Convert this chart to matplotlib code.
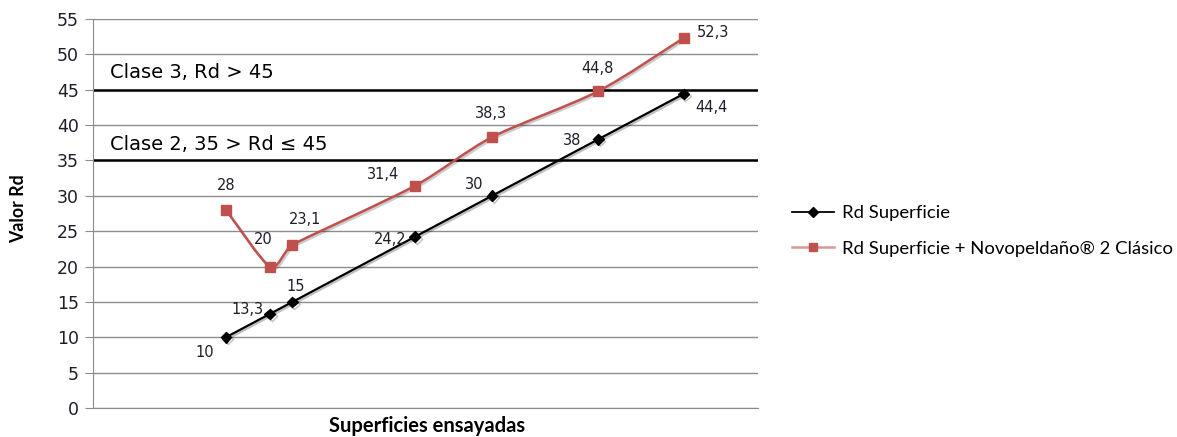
import matplotlib
matplotlib.use("Agg")
import matplotlib.pyplot as plt
import numpy as np
from matplotlib.path import Path
from matplotlib.patches import PathPatch
from matplotlib.lines import Line2D
import matplotlib.patheffects as pe

# ---- data ----
rd_superficie = [10, 13.3, 15, 24.2, 30, 38, 44.4]
rd_novopeldano = [28, 20, 23.1, 31.4, 38.3, 44.8, 52.3]
labels_black = ["10", "13,3", "15", "24,2", "30", "38", "44,4"]
labels_red = ["28", "20", "23,1", "31,4", "38,3", "44,8", "52,3"]
series_names = ["Rd Superficie", "Rd Superficie + Novopeldaño® 2 Clásico"]
clase_lines = [45, 35]
clase_texts = ["Clase 3, Rd > 45", "Clase 2, 35 > Rd \u2264 45"]
yticks = list(range(0, 60, 5))

# label offsets (pixels)
off_black = [(-21, -15), (-22, 4), (3, 15), (-25, -3), (-18, 11), (-26, -1), (28, -14)]
off_red = [(0, 24), (-7, 27), (13, 25), (-32, 11), (-1, 24), (-1, 23), (29, 6)]

BLACK = "#000000"
RED = "#C0504D"
GRID = "#8C8C8C"
TXT = "#1E1E2A"

fig = plt.figure(figsize=(11.77, 4.37), dpi=100)
ax = fig.add_axes([93 / 1177, 1 - 408 / 437, (758 - 93) / 1177, (408 - 19) / 437])

ax.set_xlim(0, 50)
ax.set_ylim(0, 55)
ax.set_yticks(yticks)
ax.set_xticks([])
ax.yaxis.grid(True, color=GRID, lw=1.0)
ax.set_axisbelow(True)
for s in ["top", "right"]:
    ax.spines[s].set_visible(False)
ax.spines["left"].set_color(GRID)
ax.spines["bottom"].set_color(GRID)
ax.tick_params(axis="y", length=6, color=GRID, labelsize=12.5, labelcolor=TXT, pad=4)
for t in ax.get_yticklabels():
    t.set_fontfamily("DejaVu Sans")

# class threshold lines
for yv in clase_lines:
    ax.axhline(yv, color="black", lw=1.8, zorder=2)
ax.text(1.3, 47.4, clase_texts[0], fontsize=14, color="black", va="center", ha="left",
        family="DejaVu Sans")
ax.text(1.3, 37.3, clase_texts[1], fontsize=14, color="black", va="center", ha="left",
        family="DejaVu Sans")

line_shadow = [pe.SimpleLineShadow(offset=(1.2, -1.2), alpha=0.25), pe.Normal()]

# black series
x = np.array(rd_superficie, dtype=float)
yb = np.array(rd_superficie, dtype=float)
ax.plot(x, yb, color=BLACK, lw=1.6, marker="D", ms=5.5, mfc=BLACK, mec=BLACK,
        zorder=4, path_effects=line_shadow)

# red series: Excel-like smoothed line (bezier through the data points)
yr = np.array(rd_novopeldano, dtype=float)
P = np.column_stack([x, yr])
sx = 665 / 50.0
sy = 389 / 55.0
Ppx = P * np.array([sx, sy])
n = len(P)
tang = []
for i in range(n):
    p0 = P[i - 1] if i > 0 else P[i]
    p2 = P[i + 1] if i < n - 1 else P[i]
    t = (p2 - p0) / 6.0
    tpx = np.hypot(t[0] * sx, t[1] * sy)
    segs = []
    if i > 0:
        segs.append(np.hypot(*(Ppx[i] - Ppx[i - 1])))
    if i < n - 1:
        segs.append(np.hypot(*(Ppx[i + 1] - Ppx[i])))
    cap = 0.3 * min(segs)
    if tpx > cap and tpx > 0:
        t = t * cap / tpx
    tang.append(t)
verts = [P[0]]
codes = [Path.MOVETO]
for i in range(n - 1):
    verts += [P[i] + tang[i], P[i + 1] - tang[i + 1], P[i + 1]]
    codes += [Path.CURVE4] * 3
patch = PathPatch(Path(verts, codes), facecolor="none", edgecolor=RED, lw=1.8, zorder=3,
                  path_effects=[pe.SimpleLineShadow(offset=(1.2, -1.2), alpha=0.2), pe.Normal()])
ax.add_patch(patch)
ax.plot(x, yr, ls="none", marker="s", ms=6.5, mfc=RED, mec=RED, zorder=4)

# data labels
for xi, yi, lab, off in zip(x, yb, labels_black, off_black):
    ax.annotate(lab, (xi, yi), xytext=off, textcoords="offset pixels", ha="center",
                va="center", fontsize=10.5, color=TXT, family="DejaVu Sans", zorder=5)
for xi, yi, lab, off in zip(x, yr, labels_red, off_red):
    ax.annotate(lab, (xi, yi), xytext=off, textcoords="offset pixels", ha="center",
                va="center", fontsize=10.5, color=TXT, family="DejaVu Sans", zorder=5)

# axis titles
fig.text(19 / 1177, 1 - 209 / 437, "Valor Rd", rotation=90, ha="center", va="center",
         fontsize=12.8, fontweight="bold", family="Lato", color="black")
fig.text(427 / 1177, 1 - 426 / 437, "Superficies ensayadas", ha="center", va="center",
         fontsize=14.5, fontweight="bold", family="Lato", color="black")

# legend
h1 = Line2D([], [], color=BLACK, lw=1.3, marker="D", ms=5, mfc=BLACK, mec=BLACK)
h2 = Line2D([], [], color="#D99694", lw=1.8, marker="s", ms=6, mfc=RED, mec=RED)
fig.legend([h1, h2], series_names, loc="center left",
           bbox_to_anchor=(775 / 1177, 1 - 231 / 437), frameon=False,
           prop={"family": "Lato", "size": 13.3}, handlelength=2.3, handletextpad=0.4,
           labelspacing=1.05, labelcolor="black")

fig.savefig("out.png", dpi=100)
